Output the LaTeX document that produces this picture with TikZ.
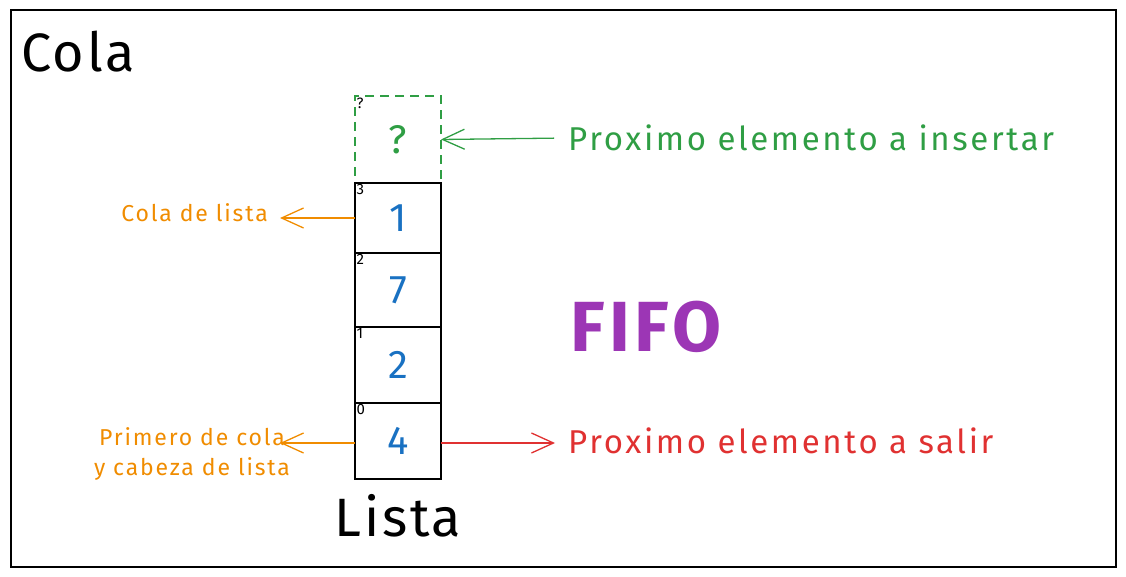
\documentclass[tikz,border=0pt]{standalone}
\usepackage{fontspec}
\setmainfont{Fira Sans}
\usetikzlibrary{arrows.meta}
\definecolor{exgreen}{HTML}{2F9E44}
\definecolor{exorange}{HTML}{F08C00}
\definecolor{exblue}{HTML}{1971C2}
\definecolor{exred}{HTML}{E03131}
\definecolor{expurple}{HTML}{9C36B5}
\def\cellnode{\node[cell,text=exblue]}
\def\idxnode{\node[idx,anchor=north west]}

\begin{document}
\begin{tikzpicture}[x=1pt,y=-1pt,
  cell/.style={draw,line width=1.4pt,minimum width=86pt,outer sep=0pt,
    font=\fontsize{40}{44}\selectfont},
  idx/.style={inner sep=1.5pt,font=\fontsize{15}{16}\selectfont},
  big/.style={font=\fontsize{54}{60}\selectfont\addfontfeatures{LetterSpace=5}},
  note/.style={inner sep=2pt,font=\fontsize{33}{38}\selectfont\addfontfeatures{LetterSpace=8}},
  side/.style={inner sep=2pt,align=center,text=exorange,font=\fontsize{23}{30}\selectfont\addfontfeatures{LetterSpace=8}},
  barb/.style={-{Straight Barb[length=22pt,width=20pt]},line width=1.3pt}]
\useasboundingbox (0,0) rectangle (1126,577);
\draw[line width=1.2pt] (11,10) rectangle (1116,567);
\node[big] (title) at (78,52) {Cola};

% celdas de la lista
\node[cell,draw=exgreen,dashed,line width=1.8pt,dash pattern=on 9pt off 6pt,text=exgreen,minimum height=87pt] (next) at (398,139.5) {?};
\cellnode[minimum height=70pt] (c3) at (398,218) {1};
\cellnode[minimum height=74pt] (c2) at (398,290) {7};
\cellnode[minimum height=76pt] (c1) at (398,365) {2};
\cellnode[minimum height=76pt] (c0) at (398,441) {4};
\idxnode at (next.north west) {?};
\idxnode at (c3.north west) {3};
\idxnode at (c2.north west) {2};
\idxnode at (c1.north west) {1};
\idxnode at (c0.north west) {0};
\node[big] (lista) at (398,516) {Lista};

% etiquetas
\node[note,text=exgreen,anchor=west] (insert) at (566,138) {Proximo elemento a insertar};
\node[note,text=exred,anchor=west] (salir) at (566,441) {Proximo elemento a salir};
\node[side,anchor=east] (tail) at (270,213) {Cola de lista};
\node[side] (head) at (192,454) {Primero de cola\\y cabeza de lista};
\node[text=expurple,font=\bfseries\fontsize{71}{78}\selectfont\addfontfeatures{LetterSpace=6}] (fifo) at (646,327) {FIFO};

\draw[barb,exgreen,shorten <=12pt] (insert.west) -- (next.east);
\draw[barb,exorange] (c3.west) -- ++(-75,0);
\draw[barb,exorange] (c0.west |- 0,443) -- ++(-75,0);
\draw[barb,exred] (c0.east |- 0,443) -- ++(114,0);
\end{tikzpicture}
\end{document}
